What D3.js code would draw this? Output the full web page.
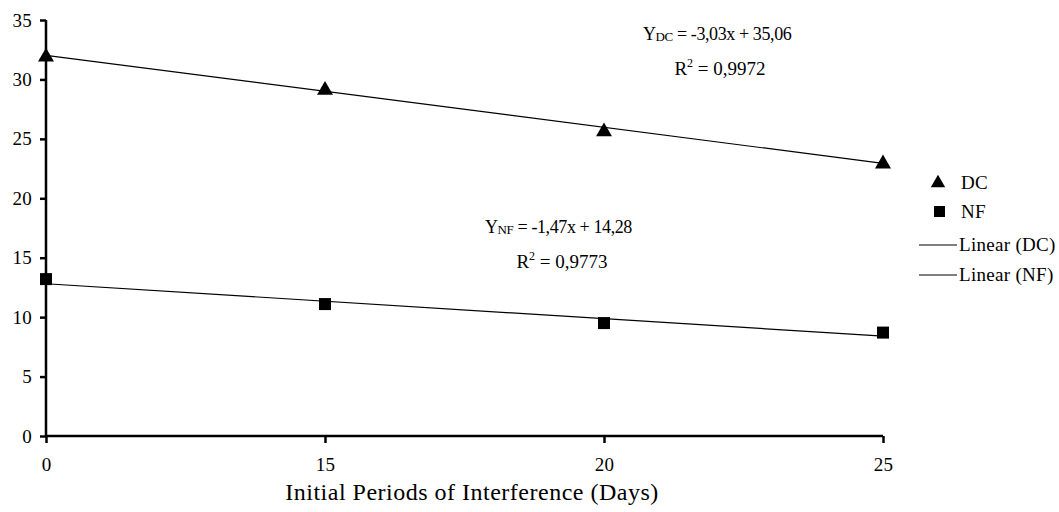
<!DOCTYPE html>
<html>
<head>
<meta charset="utf-8">
<script src="https://cdn.jsdelivr.net/npm/d3@7"></script>
<style>
  body { margin: 0; background: #fff; }
  svg text { font-family: "Liberation Serif", "DejaVu Serif", serif !important; fill: #000; }
</style>
</head>
<body>
<svg id="chart" width="1059" height="512"></svg>
<script>
const periods = ['0', '15', '20', '25'];
const dcValues = [31.9, 29.1, 25.6, 22.9];
const nfValues = [13.2, 11.1, 9.5, 8.7];
// trendline coefficients as printed (x = 1..4)
const dcFit = { slope: -3.03, intercept: 35.06, label: '-3,03x + 35,06', r2: '0,9972' };
const nfFit = { slope: -1.47, intercept: 14.28, label: '-1,47x + 14,28', r2: '0,9773' };
const yTicks = [0, 5, 10, 15, 20, 25, 30, 35];

const svg = d3.select('#chart');

const x = d3.scalePoint().domain(periods).range([46, 883]);
const y = d3.scaleLinear().domain([0, 35]).range([436, 20]);

// axes
const yAxis = svg.append('g')
  .attr('transform', 'translate(46,0)')
  .call(d3.axisLeft(y).tickValues(yTicks).tickSize(6).tickPadding(8));
const xAxis = svg.append('g')
  .attr('transform', 'translate(0,436)')
  .call(d3.axisBottom(x).tickSize(7).tickPadding(15));

[yAxis, xAxis].forEach(a => {
  a.attr('font-family', null).attr('font-size', null);
  a.select('.domain').attr('stroke-width', 2.5).attr('stroke', '#000');
  a.selectAll('.tick line').attr('stroke-width', 2.5).attr('stroke', '#000');
  a.selectAll('.tick text').style('font-size', '19px').style('letter-spacing', '0.2px');
});
// no outer tick caps
yAxis.select('.domain').attr('d', `M0,${y(35)}V${y(0)}`);
xAxis.select('.domain').attr('d', `M${x('0')},0H${x('25')}`);

svg.append('text')
  .attr('x', 472).attr('y', 500)
  .attr('text-anchor', 'middle')
  .style('font-size', '24px')
  .style('letter-spacing', '0.5px')
  .text('Initial Periods of Interference (Days)');

// trendlines
const fitLine = (fit) => [
  [x(periods[0]), y(fit.slope * 1 + fit.intercept)],
  [x(periods[periods.length - 1]), y(fit.slope * periods.length + fit.intercept)]
];
[dcFit, nfFit].forEach(fit => {
  svg.append('path')
    .attr('d', d3.line()(fitLine(fit)))
    .attr('stroke', '#000')
    .attr('stroke-width', 1.2)
    .attr('fill', 'none');
});

// markers
svg.append('g').selectAll('path')
  .data(dcValues)
  .join('path')
  .attr('transform', (d, i) => `translate(${x(periods[i])},${y(d)})`)
  .attr('d', d3.symbol(d3.symbolTriangle, 110)())
  .attr('fill', '#000');

svg.append('g').selectAll('rect')
  .data(nfValues)
  .join('rect')
  .attr('x', (d, i) => x(periods[i]) - 6)
  .attr('y', d => y(d) - 6)
  .attr('width', 12).attr('height', 12)
  .attr('fill', '#000');

// equations
const equation = (fit, name, ex, ey) => {
  const t = svg.append('text').attr('x', ex).attr('y', ey)
    .style('font-size', '18px').style('letter-spacing', '-0.4px');
  t.append('tspan').text('Y');
  t.append('tspan').text(name).style('font-size', '13px').attr('dy', 1);
  t.append('tspan').text(' = ' + fit.label).attr('dy', -1);
  const r = svg.append('text').attr('x', ex + 77).attr('y', ey + 35)
    .attr('text-anchor', 'middle')
    .style('font-size', '19px');
  r.append('tspan').text('R');
  r.append('tspan').text('2').style('font-size', '12px').attr('dy', -8);
  r.append('tspan').text(' = ' + fit.r2).attr('dy', 8);
};
equation(dcFit, 'DC', 643, 40);
equation(nfFit, 'NF', 485, 233);

// legend
const legend = svg.append('g');
legend.append('path')
  .attr('transform', 'translate(938,183)')
  .attr('d', d3.symbol(d3.symbolTriangle, 90)())
  .attr('fill', '#000');
legend.append('rect')
  .attr('x', 934).attr('y', 206).attr('width', 11).attr('height', 11)
  .attr('fill', '#000');
[245, 275].forEach(ly => {
  legend.append('line')
    .attr('x1', 919).attr('x2', 957).attr('y1', ly).attr('y2', ly)
    .attr('stroke', '#000').attr('stroke-width', 1.2);
});
const legendItems = [['DC', 961, 189], ['NF', 961, 218], ['Linear (DC)', 959, 251], ['Linear (NF)', 959, 281]];
legendItems.forEach(([label, lx, ly]) => {
  legend.append('text').attr('x', lx).attr('y', ly)
    .style('font-size', '19px').style('letter-spacing', '0.3px')
    .text(label);
});
</script>
</body>
</html>
